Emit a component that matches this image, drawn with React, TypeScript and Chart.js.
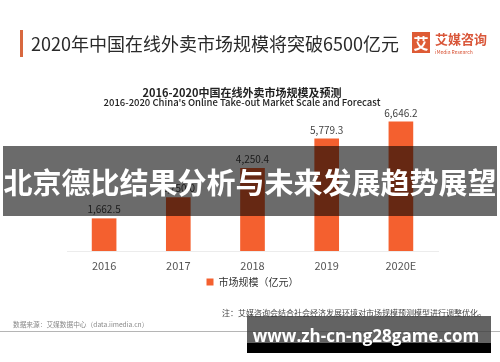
import React, { useEffect, useRef } from "react";
import { Chart, registerables } from "chart.js";

Chart.register(...registerables);

const categories = ["2016", "2017", "2018", "2019", "2020E"];
const marketScale = [1662.5, 2750.0, 4250.4, 5779.3, 6646.2];
const seriesLabel = "市场规模（亿元）";
const yMax = 7000;

const pageTitle = "2020年中国在线外卖市场规模将突破6500亿元";
const chartTitle = "2016-2020中国在线外卖市场规模及预测";
const chartSubtitle = "2016-2020 China's Online Take-out Market Scale and Forecast";
const noteText = "注：艾媒咨询会结合社会经济发展环境对市场规模预测模型进行调整优化。";
const sourceText = "数据来源：艾媒数据中心（data.iimedia.cn）";
const bannerText = "北京德比结果分析与未来发展趋势展望";
const watermarkText = "www.zh-cn-ng28game.com";

const CJK = '"Noto Sans CJK SC", "Noto Sans", sans-serif';
const BAR = "#F4602F";

const valueLabels = {
  id: "valueLabels",
  afterDatasetsDraw(chart: any) {
    const ctx = chart.ctx;
    const meta = chart.getDatasetMeta(0);
    ctx.save();
    ctx.font = `10px ${CJK}`;
    ctx.fillStyle = "#444";
    ctx.textAlign = "center";
    ctx.textBaseline = "bottom";
    meta.data.forEach((bar: any, i: number) => {
      const v = chart.data.datasets[0].data[i] as number;
      const txt = v.toLocaleString("en-US", { minimumFractionDigits: 1, maximumFractionDigits: 1 });
      ctx.fillText(txt, bar.x, bar.y - 4);
    });
    ctx.restore();
  },
};

export default function App() {
  const ref = useRef<HTMLCanvasElement | null>(null);
  useEffect(() => {
    if (!ref.current) return;
    const chart = new Chart(ref.current, {
      type: "bar",
      data: {
        labels: categories,
        datasets: [
          {
            label: seriesLabel,
            data: marketScale,
            backgroundColor: BAR,
            barThickness: 24,
          },
        ],
      },
      options: {
        animation: false,
        responsive: false,
        maintainAspectRatio: false,
        layout: { padding: { left: 67, right: 62, top: 115, bottom: 65 } },
        scales: {
          x: {
            grid: { display: false, drawTicks: false },
            border: { display: true, color: "#ececec", width: 1 },
            ticks: { color: "#555", font: { family: CJK, size: 11 }, padding: 8 },
            afterFit(scale: any) {
              scale.height = 20;
            },
          },
          y: {
            display: false,
            min: 0,
            max: yMax,
          },
        },
        plugins: {
          legend: {
            display: true,
            position: "bottom",
            labels: {
              boxWidth: 7,
              boxHeight: 7,
              padding: 6,
              color: "#333",
              font: { family: CJK, size: 10 },
            },
          },
          tooltip: { enabled: false },
        },
      },
      plugins: [valueLabels],
    });
    return () => chart.destroy();
  }, []);

  return (
    <div style={{ position: "absolute", left: 0, top: 0, width: 500, height: 362, background: "#fff", overflow: "hidden", fontFamily: CJK }}>
      <canvas ref={ref} width={500} height={362} style={{ position: "absolute", left: 0, top: 0, width: 500, height: 362 }} />
      {/* page title */}
      <div style={{ position: "absolute", left: 20, top: 30, width: 3, height: 27, background: "#D8683F" }} />
      <div style={{ position: "absolute", left: 31, top: 31, fontSize: 18, lineHeight: "24px", color: "#2a2a2a", whiteSpace: "nowrap" }}>{pageTitle}</div>
      {/* logo */}
      <div style={{ position: "absolute", left: 412, top: 32, width: 18, height: 21, background: "#DE5B35", color: "#fff", fontSize: 15, fontWeight: 700, lineHeight: "21px", textAlign: "center" }}>艾</div>
      <div style={{ position: "absolute", left: 435, top: 30, fontSize: 13, lineHeight: "17px", color: "#D9573A", fontWeight: 700, whiteSpace: "nowrap" }}>艾媒咨询</div>
      <div style={{ position: "absolute", left: 435, top: 48, fontSize: 5, lineHeight: "7px", color: "#D9573A", whiteSpace: "nowrap" }}>iMedia Research</div>
      {/* chart title */}
      <div style={{ position: "absolute", left: 0, width: 484, top: 85, fontSize: 11, lineHeight: "14px", fontWeight: 700, color: "#222", textAlign: "center", whiteSpace: "nowrap" }}>{chartTitle}</div>
      <div style={{ position: "absolute", left: 0, width: 484, top: 96, fontSize: 9.5, lineHeight: "13px", fontWeight: 500, color: "#222", textAlign: "center", whiteSpace: "nowrap" }}>{chartSubtitle}</div>
      {/* notes */}
      <div style={{ position: "absolute", left: 222, top: 307, fontSize: 8, lineHeight: "12px", color: "#444", whiteSpace: "nowrap" }}>{noteText}</div>
      <div style={{ position: "absolute", left: 13, top: 319, fontSize: 6.7, lineHeight: "10px", color: "#888", whiteSpace: "nowrap" }}>{sourceText}</div>
      <div style={{ position: "absolute", left: 0, top: 331, width: 500, height: 1, background: "#b5b5b5" }} />
      {/* banner overlay */}
      <div style={{ position: "absolute", left: 3, top: 146, width: 494, height: 70, background: "rgba(0,0,0,0.58)" }} />
      <div style={{ position: "absolute", left: 3, top: 146, width: 494, height: 70, color: "#fff", fontSize: 29, fontWeight: 700, lineHeight: "70px", textAlign: "center", whiteSpace: "nowrap" }}>{bannerText}</div>
      {/* watermark */}
      <div style={{ position: "absolute", left: 247, top: 316, width: 244, height: 27, background: "rgba(60,60,60,0.8)" }} />
      <div style={{ position: "absolute", left: 247, top: 343, width: 244, height: 10, background: "#000" }} />
      <div style={{ position: "absolute", left: 244, top: 325, width: 244, fontSize: 17, fontWeight: 700, lineHeight: "22px", color: "#fff", textAlign: "center", whiteSpace: "nowrap", fontFamily: '"Open Sans", sans-serif' }}>{watermarkText}</div>
    </div>
  );
}
